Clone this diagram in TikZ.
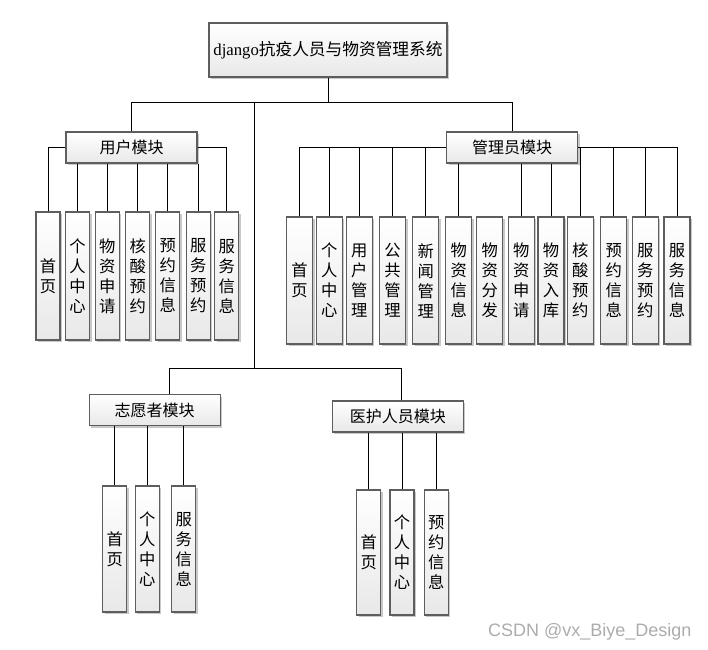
\documentclass[tikz,border=0pt]{standalone}
\usepackage{fontspec}
\setmainfont{Noto Sans CJK SC}
\newfontfamily\latfont{Liberation Serif}
\newfontfamily\wmfont{Liberation Sans}
\usetikzlibrary{shadows}
\definecolor{boxline}{HTML}{5E5E5E}
\definecolor{boxbot}{HTML}{E8E8E8}
\definecolor{shad}{HTML}{C8C8C8}
\tikzset{
  basebox/.style={draw=boxline, line width=1.1pt, top color=white, bottom color=boxbot,
    inner sep=0pt, drop shadow={shadow xshift=2pt, shadow yshift=-2pt, fill=shad, opacity=1}},
  rootbox/.style={basebox, minimum width=238pt, minimum height=54pt, font=\fontsize{16.7}{20}\selectfont},
  modbox/.style={basebox, minimum width=131pt, minimum height=31pt, font=\fontsize{16}{20}\selectfont},
  leafbox/.style={basebox, minimum width=24pt, minimum height=128pt, text width=24pt, align=center,
    font=\fontsize{16.3}{20}\selectfont},
  aleaf/.style={leafbox, minimum width=26pt, text width=26pt, minimum height=127pt},
  link/.style={draw=black, line width=0.9pt}
}
\begin{document}
\begin{tikzpicture}[x=1pt,y=-1pt]
\useasboundingbox (0,0) rectangle (708,649);
% root
\node[rootbox] (root) at (328,50) {{\latfont django}抗疫人员与物资管理系统};
% modules
\node[modbox] (um) at (131.5,147.5) {用户模块};
\node[modbox] (am) at (512,147.5) {管理员模块};
\node[modbox] (vm) at (154.7,410) {志愿者模块};
\node[modbox] (mm) at (397.8,416.5) {医护人员模块};
% user leaves
\node[leafbox] (u1) at (48,276) {首\\页};
\node[leafbox] (u2) at (77.5,276) {个\\人\\中\\心};
\node[leafbox] (u3) at (107.3,276) {物\\资\\申\\请};
\node[leafbox] (u4) at (137.8,276) {核\\酸\\预\\约};
\node[leafbox] (u5) at (167.8,276) {预\\约\\信\\息};
\node[leafbox] (u6) at (198.2,276) {服\\务\\预\\约};
\node[leafbox] (u7) at (226.8,276) {服\\务\\信\\息};
% admin leaves
\node[aleaf] (a1) at (299.5,280.5) {首\\页};
\node[aleaf] (a2) at (329.2,280.5) {个\\人\\中\\心};
\node[aleaf] (a3) at (359.3,280.5) {用\\户\\管\\理};
\node[aleaf] (a4) at (392.5,280.5) {公\\共\\管\\理};
\node[aleaf] (a5) at (425.7,280.5) {新\\闻\\管\\理};
\node[aleaf] (a6) at (458.7,280.5) {物\\资\\信\\息};
\node[aleaf] (a7) at (489.7,280.5) {物\\资\\分\\发};
\node[aleaf] (a8) at (521.3,280.5) {物\\资\\申\\请};
\node[aleaf] (a9) at (551,280.5) {物\\资\\入\\库};
\node[aleaf] (a10) at (580.3,280.5) {核\\酸\\预\\约};
\node[aleaf] (a11) at (613.8,280.5) {预\\约\\信\\息};
\node[aleaf] (a12) at (645.3,280.5) {服\\务\\预\\约};
\node[aleaf] (a13) at (677,280.5) {服\\务\\信\\息};
% volunteer leaves
\node[leafbox, minimum height=126pt] (v1) at (114.7,549) {首\\页};
\node[leafbox, minimum height=126pt] (v2) at (147.3,549) {个\\人\\中\\心};
\node[leafbox, minimum height=126pt] (v3) at (183.7,549) {服\\务\\信\\息};
% medical leaves
\node[leafbox, minimum height=125pt] (m1) at (368.7,552.5) {首\\页};
\node[leafbox, minimum height=125pt] (m2) at (402,552.5) {个\\人\\中\\心};
\node[leafbox, minimum height=125pt] (m3) at (436.3,552.5) {预\\约\\信\\息};
% junctions
\coordinate (j1) at (328,102);
\coordinate (jl) at (254,102);
\coordinate (jd) at (254,368);
\coordinate (vj) at (169.3,368);
\coordinate (mj) at (401.7,368);
% top connectors
\draw[link] (root.south) -- (j1);
\draw[link] (um.north) -- (um.north |- j1) -- (am.north |- j1) -- (am.north);
\draw[link] (jl) -- (jd);
\draw[link] (vj |- vm.north) -- (vj) -- (mj) -- (mj |- mm.north);
% user connectors
\draw[link] (u1.north) |- (um.west);
\draw[link] (u7.north) |- (um.east);
\foreach \n in {u2,u3,u4,u5,u6} \draw[link] (\n.north) -- (\n.north |- um.south);
% admin connectors
\foreach \n in {a1,a2,a3,a4,a5} \draw[link] (\n.north) |- (am.west);
\foreach \n in {a10,a11,a12,a13} \draw[link] (\n.north) |- (am.east);
\foreach \n in {a6,a8,a9} \draw[link] (\n.north) -- (\n.north |- am.south);
% volunteer / medical connectors
\foreach \n in {v1,v2,v3} \draw[link] (\n.north) -- (\n.north |- vm.south);
\foreach \n in {m1,m2,m3} \draw[link] (\n.north) -- (\n.north |- mm.south);
% watermark
\node[anchor=base west, inner sep=0pt, text=gray!65, font=\wmfont\fontsize{18}{20}\selectfont] (wm) at (488,636.5) {CSDN @vx\_Biye\_Design};
\end{tikzpicture}
\end{document}
